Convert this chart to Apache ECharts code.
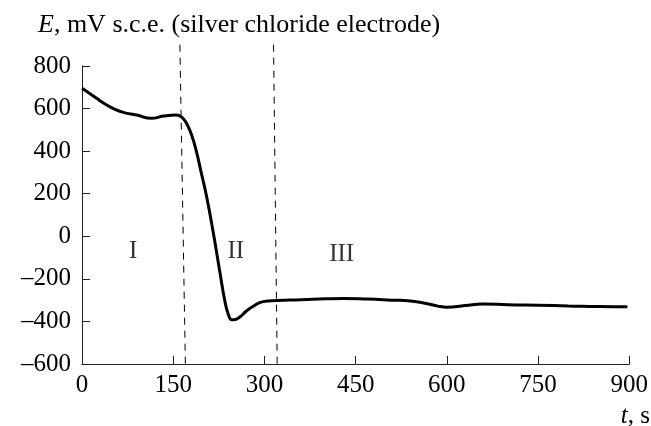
<!DOCTYPE html>
<html>
<head>
<meta charset="utf-8">
<script src="https://cdn.jsdelivr.net/npm/echarts@6/dist/echarts.min.js"></script>
<style>
  html, body { margin: 0; padding: 0; background: #fff; }
  #chart { width: 651px; height: 426px; }
</style>
</head>
<body>
<div id="chart"></div>
<script>
// time, s
var times = [0, 12, 24, 36, 51, 68, 90, 114, 134, 155, 164, 172, 180, 188, 196, 205, 216, 227, 235, 241, 246,
             252, 260, 270, 281, 298, 320, 360, 400, 430, 470, 510, 540, 570, 585, 600, 630, 660, 700,
             750, 800, 850, 897];
// potential, mV
var potentials = [695, 672, 648, 625, 601, 582, 570, 554, 565, 570, 560, 530, 478, 400, 300, 186, 15, -173, -305, -370, -392,
                  -391, -378, -352, -330, -307, -302, -298, -294, -292, -295, -300, -304, -318, -328, -333, -325, -318, -322,
                  -324, -327, -330, -331];
// boundaries between stages (top point, bottom point)
var boundary1 = [[161, 900], [170, -600]];
var boundary2 = [[315, 900], [321, -600]];
// stage labels
var stageLabels = [[84, -73, 'I'], [253, -73, 'II'], [427, -87, 'III']];

var serif = 'Liberation Serif';
var chart = echarts.init(document.getElementById('chart'), null, {renderer: 'canvas'});

var curve = times.map(function (t, i) { return [t, potentials[i]]; });

function dashed(points) {
    return {
        type: 'line',
        data: points,
        clip: false,
        symbol: 'none',
        silent: true,
        lineStyle: { color: '#000', width: 1, type: [7, 6] }
    };
}

chart.setOption({
    animation: false,
    title: {
        text: '{i|E}, mV s.c.e. (silver chloride electrode)',
        left: 33,
        top: 7,
        textStyle: {
            fontFamily: serif,
            fontSize: 26,
            fontWeight: 'normal',
            color: '#000',
            rich: {
                i: { fontFamily: serif, fontSize: 26, fontStyle: 'italic', color: '#000' }
            }
        }
    },
    graphic: [{
        type: 'text',
        right: 1,
        top: 404,
        style: {
            text: '{i|t}, s',
            fontFamily: serif,
            fontSize: 25,
            fill: '#000',
            rich: { i: { fontFamily: serif, fontSize: 25, fontStyle: 'italic', fill: '#000' } }
        }
    }],
    grid: { left: 82, right: 21, top: 66, bottom: 62 },
    xAxis: {
        type: 'value',
        min: 0,
        max: 900,
        interval: 150,
        axisLine: { onZero: false, lineStyle: { color: '#222', width: 1 } },
        axisTick: { inside: true, length: 8, lineStyle: { color: '#222' } },
        axisLabel: { fontFamily: serif, fontSize: 25, color: '#000', margin: 9 },
        splitLine: { show: false }
    },
    yAxis: {
        type: 'value',
        min: -600,
        max: 800,
        interval: 200,
        axisLine: { show: true, lineStyle: { color: '#222', width: 1 } },
        axisTick: { show: true, inside: true, length: 8, lineStyle: { color: '#222' } },
        axisLabel: {
            fontFamily: serif, fontSize: 25, color: '#000', margin: 11,
            formatter: function (v) { return v < 0 ? '\u2013' + Math.abs(v) : String(v); }
        },
        splitLine: { show: false }
    },
    series: [
        {
            type: 'line',
            data: curve,
            smooth: 0.5,
            symbol: 'none',
            lineStyle: { color: '#000', width: 3 }
        },
        dashed(boundary1),
        dashed(boundary2),
        {
            type: 'scatter',
            data: stageLabels,
            symbolSize: 0,
            silent: true,
            label: {
                show: true,
                position: 'inside',
                fontFamily: serif,
                fontSize: 25,
                color: '#000',
                formatter: function (p) { return p.value[2]; }
            }
        }
    ]
});
</script>
</body>
</html>
